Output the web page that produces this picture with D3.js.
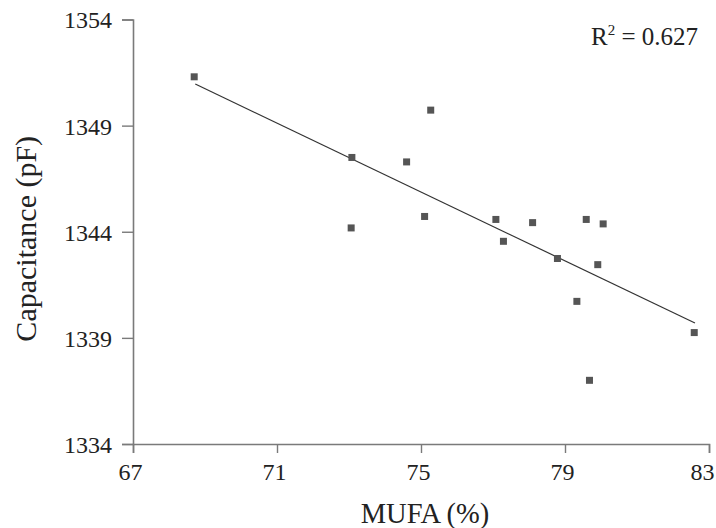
<!DOCTYPE html>
<html>
<head>
<meta charset="utf-8">
<script src="https://cdn.jsdelivr.net/npm/d3@7"></script>
<style>
  html, body { margin: 0; padding: 0; background: #fff; }
  svg { display: block; }
</style>
</head>
<body>
<script>
// ---- data ----
const mufa = [68.70, 73.08, 73.06, 74.60, 75.10, 75.27, 77.08, 77.29, 78.10, 78.79, 79.33, 79.59, 79.68, 79.91, 80.06, 82.59];
const capacitance = [1351.30, 1347.50, 1344.18, 1347.29, 1344.72, 1349.73, 1344.58, 1343.55, 1344.43, 1342.74, 1340.72, 1344.58, 1337.00, 1342.45, 1344.37, 1339.25];
const trendX = [68.73, 82.61];
const trendY = [1350.96, 1339.70];
const xTicks = [67, 71, 75, 79, 83];
const yTicks = [1334, 1339, 1344, 1349, 1354];
const xTitle = "MUFA (%)";
const yTitle = "Capacitance (pF)";
const r2Label = "0.627";

// ---- layout ----
const W = 716, H = 528;
const mLeft = 133, mRight = 709, mTop = 19.5, mBottom = 444;
const serif = '"Liberation Serif"';
const textColor = "#222";

const svg = d3.select("body").append("svg").attr("width", W).attr("height", H);

const x = d3.scaleLinear().domain([67, 83]).range([mLeft, mRight]);
const y = d3.scaleLinear().domain([1334, 1354]).range([mBottom, mTop]);

const axisColor = "#7a7a7a";

const gx = svg.append("g").attr("transform", `translate(0,${mBottom})`)
  .call(d3.axisBottom(x).tickValues(xTicks).tickSize(9).tickPadding(10).tickFormat(d3.format("d")));
const gy = svg.append("g").attr("transform", `translate(${mLeft},0)`)
  .call(d3.axisLeft(y).tickValues(yTicks).tickSize(11).tickPadding(10).tickFormat(d3.format("d")));

[gx, gy].forEach(g => {
  g.attr("font-family", null).attr("font-size", null);
  g.select(".domain").attr("stroke", axisColor).attr("stroke-width", 1.6);
  g.selectAll(".tick line").attr("stroke", axisColor).attr("stroke-width", 1.4);
  g.selectAll(".tick text").attr("fill", textColor).style("font-family", serif).style("font-size", "24px");
});
gy.selectAll(".tick text").attr("dy", "0.35em");
gx.selectAll(".tick text").attr("dx", (d, i, n) => i === n.length - 1 ? -7 : -3);

// trend line
svg.append("line")
  .attr("x1", x(trendX[0])).attr("y1", y(trendY[0]))
  .attr("x2", x(trendX[1])).attr("y2", y(trendY[1]))
  .attr("stroke", "#333").attr("stroke-width", 1.2);

// points
const s = 7;
svg.append("g").selectAll("rect")
  .data(mufa.map((d, i) => [d, capacitance[i]]))
  .join("rect")
  .attr("x", d => x(d[0]) - s / 2)
  .attr("y", d => y(d[1]) - s / 2)
  .attr("width", s).attr("height", s)
  .attr("fill", "#555");

// titles
svg.append("text")
  .attr("x", (mLeft + mRight) / 2 + 4).attr("y", 523)
  .attr("text-anchor", "middle")
  .attr("fill", textColor)
  .style("font-family", serif)
  .style("font-size", "28.5px")
  .text(xTitle);

svg.append("text")
  .attr("transform", `translate(36,${(mTop + mBottom) / 2 + 7}) rotate(-90)`)
  .attr("text-anchor", "middle")
  .attr("fill", textColor)
  .style("font-family", serif)
  .style("font-size", "30px")
  .text(yTitle);

// R^2 annotation
const r2 = svg.append("text")
  .attr("x", 698).attr("y", 45)
  .attr("text-anchor", "end")
  .attr("fill", textColor)
  .style("font-family", serif)
  .style("font-size", "25px");
r2.append("tspan").text("R");
r2.append("tspan").attr("dy", -10).style("font-size", "15px").text("2");
r2.append("tspan").attr("dy", 10).text(" = " + r2Label);
</script>
</body>
</html>
